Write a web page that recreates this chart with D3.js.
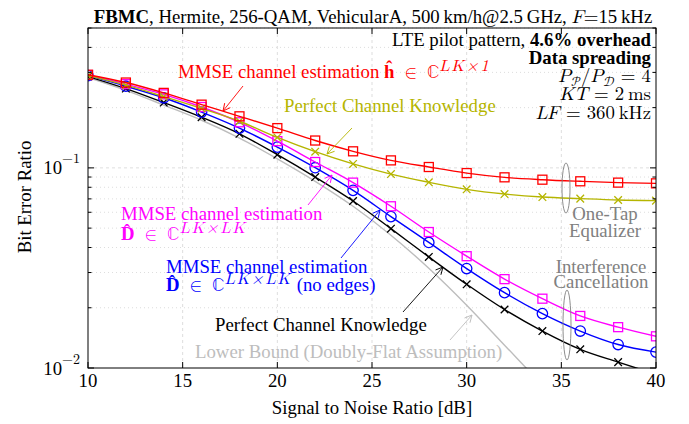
<!DOCTYPE html>
<html>
<head>
<meta charset="utf-8">
<script src="https://cdn.jsdelivr.net/npm/d3@7"></script>
<style>
  body { margin: 0; background: #fff; }
</style>
</head>
<body>
<div id="chart"></div>
<script>
// SNR grid (dB) and BER values
const snr = [10, 12, 14, 16, 18, 20, 22, 24, 26, 28, 30, 32, 34, 36, 38, 40];
const berMmseOneTap    = [0.292, 0.267, 0.237, 0.207, 0.181, 0.158, 0.137, 0.121, 0.109, 0.101, 0.0942, 0.0897, 0.0873, 0.0857, 0.0844, 0.0837];
const berPerfectOneTap = [0.289, 0.259, 0.227, 0.198, 0.171, 0.142, 0.1205, 0.1047, 0.0931, 0.0847, 0.0781, 0.074, 0.0715, 0.0702, 0.0691, 0.0686];
const berMmseIc        = [0.291, 0.262, 0.233, 0.2015, 0.169, 0.136, 0.107, 0.0844, 0.0643, 0.0478, 0.0362, 0.0278, 0.0222, 0.0182, 0.016, 0.0144];
const berMmseIcNoEdges = [0.289, 0.256, 0.224, 0.19, 0.158, 0.127, 0.1002, 0.0772, 0.0571, 0.0424, 0.0314, 0.0238, 0.0187, 0.0153, 0.0131, 0.012];
const berPerfectIc     = [0.286, 0.249, 0.212, 0.179, 0.148, 0.1164, 0.09, 0.0683, 0.0497, 0.0359, 0.0262, 0.0196, 0.0153, 0.0124, 0.0107, 0.0093];
const berLowerBound    = [0.283, 0.244, 0.206, 0.173, 0.141, 0.111, 0.0857, 0.0643, 0.0461, 0.0315, 0.0206, 0.013, 0.0082, 0.0051, 0.0033, 0.0021];

const xTicks = [10, 15, 20, 25, 30, 35, 40];
const yMajor = [0.01, 0.1];
const yMinor = [0.02, 0.03, 0.04, 0.05, 0.06, 0.07, 0.08, 0.09, 0.2, 0.3, 0.4, 0.5];

const width = 689, height = 424;
const margin = { top: 28, right: 33, bottom: 56, left: 88 };
const serif = "'Liberation Serif', 'Times New Roman', serif";
const math = "'Latin Modern Math', 'Latin Modern Roman', 'Liberation Serif', serif";
const fs = 18.8;

const svg = d3.select('#chart').append('svg')
    .attr('width', width)
    .attr('height', height)
    .style('font-family', serif);

const x = d3.scaleLinear().domain([10, 40]).range([margin.left, width - margin.right]);
const y = d3.scaleLog().domain([0.01, 0.5]).range([height - margin.bottom, margin.top]);

const x0 = x.range()[0], x1 = x.range()[1];
const yb = y.range()[0], yt = y.range()[1];

svg.append('clipPath').attr('id', 'plot-clip')
    .append('rect').attr('x', x0).attr('y', yt).attr('width', x1 - x0).attr('height', yb - yt);

// grid
svg.append('g').selectAll('line')
    .data(xTicks.slice(1, -1))
    .enter().append('line')
    .attr('x1', d => x(d)).attr('x2', d => x(d))
    .attr('y1', yt).attr('y2', yb)
    .attr('stroke', '#d4d4d4').attr('stroke-dasharray', '3,3').attr('stroke-width', 0.8);

svg.append('g').selectAll('line')
    .data(yMinor.concat([0.1]))
    .enter().append('line')
    .attr('x1', x0).attr('x2', x1)
    .attr('y1', d => y(d)).attr('y2', d => y(d))
    .attr('stroke', '#d4d4d4')
    .attr('stroke-dasharray', d => d === 0.1 ? '3,3' : '1,3')
    .attr('stroke-width', 0.8);

// series
const series = [
    { values: berLowerBound, color: '#bdbdbd', marker: null },
    { values: berPerfectIc, color: '#000000', marker: 'x' },
    { values: berMmseIcNoEdges, color: '#0000ff', marker: 'circle' },
    { values: berMmseIc, color: '#ff00ff', marker: 'square' },
    { values: berPerfectOneTap, color: '#b5b500', marker: 'x' },
    { values: berMmseOneTap, color: '#ff0000', marker: 'square' }
];

const line = d3.line()
    .x(d => x(d[0]))
    .y(d => y(d[1]))
    .curve(d3.curveMonotoneX);

const plot = svg.append('g').attr('clip-path', 'url(#plot-clip)');

series.forEach(s => {
    const pts = snr.map((v, i) => [v, s.values[i]]);
    plot.append('path')
        .attr('d', line(pts))
        .attr('fill', 'none')
        .attr('stroke', s.color)
        .attr('stroke-width', 1.4);

    if (!s.marker) return;
    const g = plot.append('g');
    const sel = g.selectAll('.m').data(pts).enter();
    if (s.marker === 'square') {
        sel.append('rect')
            .attr('x', d => x(d[0]) - 4.5).attr('y', d => y(d[1]) - 4.5)
            .attr('width', 9).attr('height', 9)
            .attr('fill', 'none').attr('stroke', s.color).attr('stroke-width', 1.3);
    } else if (s.marker === 'circle') {
        sel.append('circle')
            .attr('cx', d => x(d[0])).attr('cy', d => y(d[1]))
            .attr('r', 5.2)
            .attr('fill', 'none').attr('stroke', s.color).attr('stroke-width', 1.3);
    } else {
        sel.append('path')
            .attr('transform', d => `translate(${x(d[0])},${y(d[1])})`)
            .attr('d', 'M-3.8,-3.8L3.8,3.8M-3.8,3.8L3.8,-3.8')
            .attr('stroke', s.color).attr('stroke-width', 1.3);
    }
});

// frame and ticks (inward, on all four sides)
svg.append('rect')
    .attr('x', x0).attr('y', yt).attr('width', x1 - x0).attr('height', yb - yt)
    .attr('fill', 'none').attr('stroke', '#000').attr('stroke-width', 1);

const ticks = svg.append('g').attr('stroke', '#000').attr('stroke-width', 1);
xTicks.forEach(t => {
    ticks.append('line').attr('x1', x(t)).attr('x2', x(t)).attr('y1', yb).attr('y2', yb - 6);
    ticks.append('line').attr('x1', x(t)).attr('x2', x(t)).attr('y1', yt).attr('y2', yt + 6);
});
yMajor.forEach(t => {
    ticks.append('line').attr('x1', x0).attr('x2', x0 + 6).attr('y1', y(t)).attr('y2', y(t));
    ticks.append('line').attr('x1', x1).attr('x2', x1 - 6).attr('y1', y(t)).attr('y2', y(t));
});
yMinor.forEach(t => {
    ticks.append('line').attr('x1', x0).attr('x2', x0 + 3.5).attr('y1', y(t)).attr('y2', y(t));
    ticks.append('line').attr('x1', x1).attr('x2', x1 - 3.5).attr('y1', y(t)).attr('y2', y(t));
});

// tick labels
svg.append('g').selectAll('text')
    .data(xTicks).enter().append('text')
    .attr('x', d => x(d)).attr('y', 387)
    .attr('text-anchor', 'middle')
    .attr('font-size', fs)
    .text(d => d);

yMajor.forEach(t => {
    const tx = svg.append('text')
        .attr('x', x0 - 8).attr('y', y(t) + 6.5)
        .attr('text-anchor', 'end')
        .attr('font-size', fs);
    tx.append('tspan').text('10');
    tx.append('tspan').attr('dy', -11).attr('font-size', 14)
        .style('font-family', math)
        .text('\u2212' + Math.round(-Math.log10(t)));
});

// axis titles
svg.append('text')
    .attr('x', (x0 + x1) / 2).attr('y', 414)
    .attr('text-anchor', 'middle').attr('font-size', fs)
    .text('Signal to Noise Ratio [dB]');

svg.append('text')
    .attr('transform', `translate(31,197) rotate(-90)`)
    .attr('text-anchor', 'middle').attr('font-size', fs)
    .text('Bit Error Ratio');

// title
const title = svg.append('text')
    .attr('x', 373).attr('y', 23)
    .attr('text-anchor', 'middle').attr('font-size', fs);
title.append('tspan').attr('font-weight', 'bold').text('FBMC');
title.append('tspan').text(', Hermite, 256-QAM, VehicularA, 500\u2009km/h@2.5\u2009GHz,  ');
title.append('tspan').attr('font-style', 'italic').style('font-family', math).text('F');
title.append('tspan').style('font-family', math).text('=');
title.append('tspan').text('15\u2009kHz');

// parameter box, right aligned
const rx = x1 - 5;
const info = svg.append('g').attr('font-size', fs).attr('text-anchor', 'end');
const l1 = info.append('text').attr('x', rx).attr('y', 46);
l1.append('tspan').text('LTE pilot pattern, ');
l1.append('tspan').attr('font-weight', 'bold').text('4.6% overhead');
info.append('text').attr('x', rx).attr('y', 63.5).attr('font-weight', 'bold').text('Data spreading');
const l3 = info.append('text').attr('x', rx).attr('y', 82).style('font-family', math);
l3.append('tspan').attr('font-style', 'italic').text('P');
l3.append('tspan').attr('dy', 4).attr('font-size', 13).text('\uD835\uDCAB');
l3.append('tspan').attr('dy', -4).text('/');
l3.append('tspan').attr('font-style', 'italic').text('P');
l3.append('tspan').attr('dy', 4).attr('font-size', 13).text('\uD835\uDC9F');
l3.append('tspan').attr('dy', -4).text(' = 4');
const l4 = info.append('text').attr('x', rx).attr('y', 100).style('font-family', math);
l4.append('tspan').attr('font-style', 'italic').text('KT');
l4.append('tspan').text(' = 2\u2009ms');
const l5 = info.append('text').attr('x', rx).attr('y', 119).style('font-family', math);
l5.append('tspan').attr('font-style', 'italic').text('LF');
l5.append('tspan').text(' = 360\u2009kHz');

// arrows
const defs = svg.append('defs');
function arrowMarker(id, color) {
    defs.append('marker')
        .attr('id', id).attr('viewBox', '0 0 10 10')
        .attr('refX', 9).attr('refY', 5)
        .attr('markerWidth', 9).attr('markerHeight', 9)
        .attr('markerUnits', 'userSpaceOnUse')
        .attr('orient', 'auto')
        .append('path').attr('d', 'M1,1L9,5L1,9')
        .attr('fill', 'none').attr('stroke', color).attr('stroke-width', 1);
}
function arrow(x1a, y1a, x2a, y2a, color, id) {
    arrowMarker(id, color);
    svg.append('line')
        .attr('x1', x1a).attr('y1', y1a).attr('x2', x2a).attr('y2', y2a)
        .attr('stroke', color).attr('stroke-width', 0.9)
        .attr('marker-end', `url(#${id})`);
}

// labels for the curves
function mathLabel(xp, yp, color, parts) {
    const t = svg.append('text').attr('x', xp).attr('y', yp)
        .attr('font-size', fs).attr('fill', color);
    parts.forEach(p => {
        const s = t.append('tspan').text(p.t);
        if (p.b) s.attr('font-weight', 'bold');
        if (p.i) s.attr('font-style', 'italic');
        if (p.m) s.style('font-family', math);
        if (p.sup) s.attr('dy', -7).attr('font-size', 16).attr('letter-spacing', 2);
        if (p.down) s.attr('dy', 7);
    });
    return t;
}

const elemOf = ' \u2009\u2208\u2009 \u2102';

mathLabel(178, 78, '#ff0000', [
    { t: 'MMSE channel estimation ' }, { t: 'h\u0302', b: true }, { t: elemOf, m: true },
    { t: 'LK\u00d71', i: true, sup: true, m: true }
]);
arrow(243, 86, 223, 111, '#ff0000', 'ar-red');

mathLabel(284, 112, '#b5b500', [{ t: 'Perfect Channel Knowledge' }]);
arrow(352, 128, 327, 154, '#b5b500', 'ar-olive');

mathLabel(121, 220, '#ff00ff', [{ t: 'MMSE channel estimation' }]);
mathLabel(121, 240, '#ff00ff', [
    { t: 'D\u0302', b: true }, { t: elemOf, m: true }, { t: 'LK\u00d7LK', i: true, sup: true, m: true }
]);
arrow(308, 205, 332, 175, '#ff00ff', 'ar-mag');

mathLabel(166, 273, '#0000ff', [{ t: 'MMSE channel estimation' }]);
mathLabel(166, 291, '#0000ff', [
    { t: 'D\u0302', b: true }, { t: elemOf, m: true }, { t: 'LK\u00d7LK', i: true, sup: true, m: true },
    { t: '  (no edges)', down: true }
]);
arrow(341, 258, 380, 210, '#0000ff', 'ar-blue');

mathLabel(215, 331, '#000000', [{ t: 'Perfect Channel Knowledge' }]);
arrow(403, 312, 443, 267, '#000000', 'ar-black');

mathLabel(195, 358, '#bdbdbd', [{ t: 'Lower Bound (Doubly-Flat Assumption)' }]);
arrow(450, 340, 472, 315, '#bdbdbd', 'ar-gray');

// equalizer groups
const grp = svg.append('g').attr('fill', '#808080').attr('font-size', fs).attr('text-anchor', 'middle');
svg.append('ellipse').attr('cx', 566).attr('cy', 188).attr('rx', 4).attr('ry', 25)
    .attr('fill', 'none').attr('stroke', '#808080').attr('stroke-width', 0.9);
grp.append('text').attr('x', 605).attr('y', 220).text('One-Tap');
grp.append('text').attr('x', 605).attr('y', 237).text('Equalizer');

svg.append('ellipse').attr('cx', 567).attr('cy', 325).attr('rx', 4).attr('ry', 35)
    .attr('fill', 'none').attr('stroke', '#808080').attr('stroke-width', 0.9);
grp.append('text').attr('x', 601).attr('y', 273).text('Interference');
grp.append('text').attr('x', 601).attr('y', 288).text('Cancellation');
</script>
</body>
</html>
